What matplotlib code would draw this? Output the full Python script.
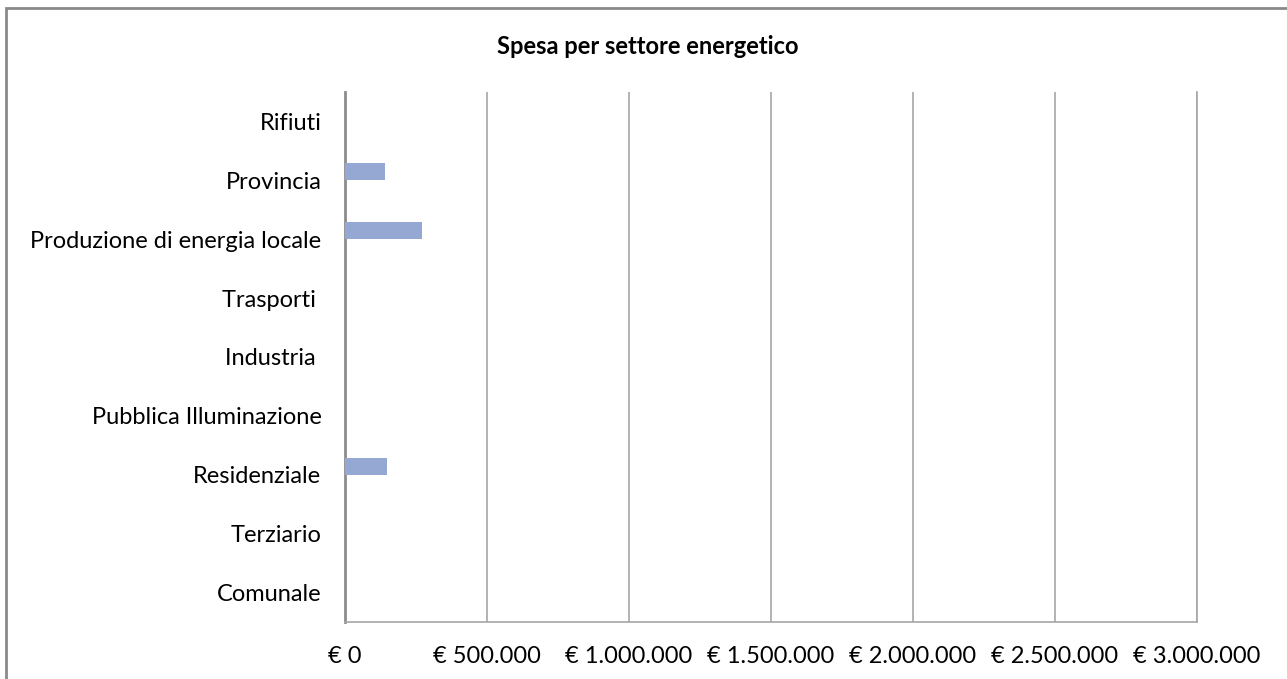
import matplotlib.pyplot as plt
from matplotlib.patches import Rectangle
from matplotlib.ticker import FuncFormatter

# settori dal basso verso l'alto
settori = ['Comunale', 'Terziario', 'Residenziale', 'Pubblica Illuminazione',
           'Industria ', 'Trasporti ', 'Produzione di energia locale',
           'Provincia', 'Rifiuti']
spesa = [0, 0, 148000, 0, 0, 0, 272000, 140000, 0]

plt.rcParams['font.family'] = ['Lato', 'DejaVu Sans']

fig = plt.figure(figsize=(12.87, 6.79), dpi=100)
ax = fig.add_axes([0.2681, 0.0840, 0.6620, 0.7805])

pos = range(len(settori))
ax.barh([p + 0.146 for p in pos], spesa, height=0.29,
        color='#94a8d3', linewidth=0, zorder=3)

ax.set_xlim(0, 3000000)
ax.set_ylim(-0.5, len(settori) - 0.5)
ax.set_xticks(range(0, 3000001, 500000))
ax.xaxis.set_major_formatter(FuncFormatter(
    lambda v, p: '€ ' + f'{int(v):,}'.replace(',', '.')))
ax.set_yticks(list(pos))
ax.set_yticklabels(settori)
ax.tick_params(axis='both', length=0, labelsize=17, colors='#000000')
ax.tick_params(axis='y', pad=17)
ax.tick_params(axis='x', pad=17)

ax.grid(axis='x', color='#a6a6a6', linewidth=1.2, zorder=0)
ax.spines['top'].set_visible(False)
ax.spines['right'].set_color('#a6a6a6')
ax.spines['right'].set_linewidth(1.2)
ax.spines['bottom'].set_color('#a6a6a6')
ax.spines['bottom'].set_linewidth(1.2)
ax.spines['left'].set_color('#8c8c8c')
ax.spines['left'].set_linewidth(2)

fig.text(0.5035, 0.932, 'Spesa per settore energetico', ha='center', va='center',
         fontsize=17, fontweight='bold')

# cornice del grafico
fig.patches.append(Rectangle((6 / 1287, -0.05), 1.1, 0.05 + 1 - 8 / 679,
                             transform=fig.transFigure, fill=False,
                             edgecolor='#8a8a8a', linewidth=2))

fig.savefig('out.png', dpi=100)
